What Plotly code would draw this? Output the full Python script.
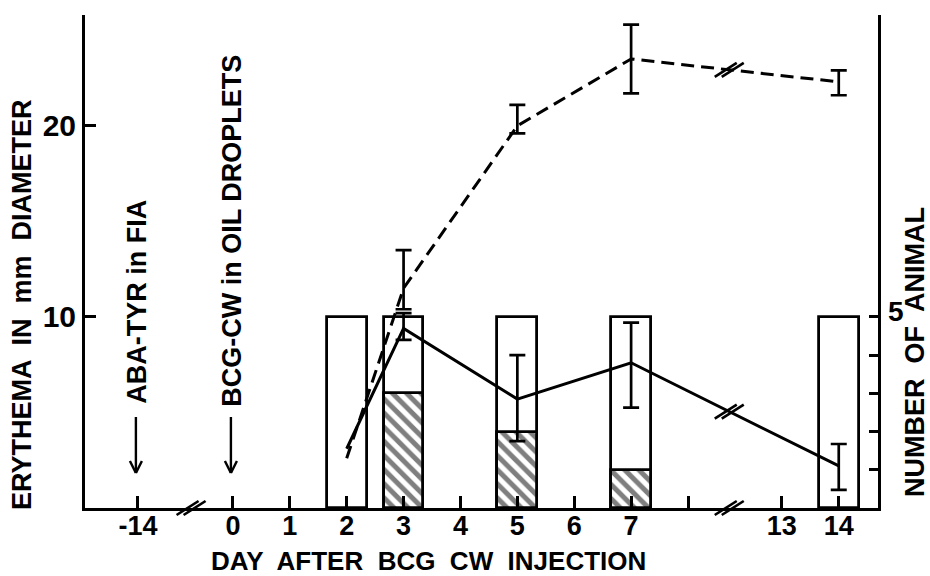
import plotly.graph_objects as go

# ---------------- data ----------------
tick_days = [-14, 0, 1, 2, 3, 4, 5, 6, 7, 8, 13, 14]
tick_labels = ["-14", "0", "1", "2", "3", "4", "5", "6", "7", "", "13", "14"]

bar_days = [2, 3, 5, 7, 14]
animals_total = [5, 5, 5, 5, 5]
hatched_days = [3, 5, 7]
animals_positive = [3, 2, 1]

line_days = [2, 3, 5, 7, 14]
dashed_mm = [2.6, 11.5, 20.0, 23.5, 22.3]
dashed_err_plus = [None, 2.0, 1.1, 1.8, 0.6]
dashed_err_minus = [None, 1.1, 0.4, 1.8, 0.7]
solid_mm = [3.1, 9.4, 5.7, 7.6, 2.2]
solid_err_plus = [None, 0.8, 2.3, 2.1, 1.15]
solid_err_minus = [None, 0.6, 2.2, 2.35, 1.25]

left_ticks = [10, 20]
right_ticks = [1, 2, 3, 4, 5]
right_label_value = 5

# ------------- broken-axis scale -------------
def xpos(day):
    if day < -1:
        return day + 12.33
    if day > 8:
        return day - 3.35
    return day

FONT = "Liberation Sans, Arial, sans-serif"
BLACK = "black"

fig = go.Figure()

# open bars (total animals) on base axis y (right side)
fig.add_trace(go.Bar(
    x=[xpos(d) for d in bar_days], y=animals_total, width=0.70,
    marker=dict(color="white", line=dict(color=BLACK, width=2.8)),
    yaxis="y", showlegend=False))
# hatched bars (positive animals)
fig.add_trace(go.Bar(
    x=[xpos(d) for d in hatched_days], y=animals_positive, width=0.70,
    marker=dict(color="white", line=dict(color=BLACK, width=2.8),
                pattern=dict(shape="\\", fgcolor=BLACK, bgcolor="white",
                             size=10, solidity=0.5)),
    yaxis="y", showlegend=False))

def add_line(vals, eplus, eminus, dash):
    xs = [xpos(d) for d in line_days]
    fig.add_trace(go.Scatter(
        x=xs, y=vals, mode="lines", yaxis="y2", showlegend=False,
        line=dict(color=BLACK, width=3, dash=dash)))
    idx = [i for i, e in enumerate(eplus) if e is not None]
    fig.add_trace(go.Scatter(
        x=[xs[i] for i in idx], y=[vals[i] for i in idx], mode="markers",
        yaxis="y2", showlegend=False, marker=dict(size=1, color=BLACK),
        error_y=dict(type="data", symmetric=False,
                     array=[eplus[i] for i in idx],
                     arrayminus=[eminus[i] for i in idx],
                     color=BLACK, thickness=2.7, width=8)))

add_line(dashed_mm, dashed_err_plus, dashed_err_minus, "13px,7px")
add_line(solid_mm, solid_err_plus, solid_err_minus, "solid")

# ------------- break marks -------------
shapes = []
def brk(xc, yc, yref):
    for dx in (-3.5, 3.5):
        shapes.append(dict(type="line", xref="x", yref=yref,
                           xsizemode="pixel", ysizemode="pixel",
                           xanchor=xc, yanchor=yc,
                           x0=dx - 11, x1=dx + 11, y0=-7, y1=7,
                           line=dict(color=BLACK, width=2.6)))

axis_brk1 = (xpos(-14) + xpos(0)) / 2 + 0.1
axis_brk2 = (xpos(8) + xpos(13)) / 2 - 0.1
brk(axis_brk1, 0, "paper")
brk(axis_brk2, 0, "paper")
# on the lines between day 7 and day 14
x7, x14 = xpos(7), xpos(14)
for vals in (dashed_mm, solid_mm):
    y7, y14 = vals[3], vals[4]
    t = (axis_brk2 - x7) / (x14 - x7)
    brk(axis_brk2, y7 + t * (y14 - y7), "y2")

# ------------- injection arrows -------------
annots = []
arrow_tip = 0.071
for day, label, ymid in ((-14, "ABA-TYR in FIA", 0.418),
                         (0, "BCG-CW in OIL DROPLETS", 0.562)):
    xc = xpos(day)
    shapes.append(dict(type="line", xref="x", yref="paper",
                       xsizemode="pixel", ysizemode="pixel",
                       xanchor=xc, yanchor=arrow_tip,
                       x0=-2, x1=-2, y0=0, y1=56,
                       line=dict(color=BLACK, width=2.4)))
    for s in (-1, 1):
        shapes.append(dict(type="line", xref="x", yref="paper",
                           xsizemode="pixel", ysizemode="pixel",
                           xanchor=xc, yanchor=arrow_tip,
                           x0=-2 + s * 6, x1=-2, y0=12, y1=0,
                           line=dict(color=BLACK, width=2.4)))
    annots.append(dict(text="<b>%s</b>" % label, x=xc, xref="x", y=ymid, yref="paper",
                       textangle=-90, showarrow=False, xanchor="center",
                       yanchor="middle", xshift=-1,
                       font=dict(family=FONT, size=27, color=BLACK)))

# right-axis label (only "5" is labelled)
annots.append(dict(text="<b>%d</b>" % right_label_value, x=1.0222, xref="paper",
                   y=right_label_value, yref="y", showarrow=False,
                   xanchor="center", yanchor="middle", yshift=5,
                   font=dict(family=FONT, size=28, color=BLACK)))

# ------------- axis titles -------------
annots.append(dict(text="<b>ERYTHEMA  IN  mm  DIAMETER</b>", x=-0.0794, y=0.412,
                   xref="paper", yref="paper", textangle=-90, showarrow=False,
                   xanchor="center", yanchor="middle",
                   font=dict(family=FONT, size=27, color=BLACK)))
annots.append(dict(text="<b>NUMBER  OF  ANIMAL</b>", x=1.0475, y=0.316,
                   xref="paper", yref="paper", textangle=-90, showarrow=False,
                   xanchor="center", yanchor="middle",
                   font=dict(family=FONT, size=27, color=BLACK)))
annots.append(dict(text="<b>DAY  AFTER  BCG  CW  INJECTION</b>", x=0.4326, y=-0.108,
                   xref="paper", yref="paper", showarrow=False,
                   xanchor="center", yanchor="middle",
                   font=dict(family=FONT, size=26, color=BLACK)))

fig.update_layout(
    width=930, height=576,
    margin=dict(l=85, r=52, t=15, b=68),
    paper_bgcolor="white", plot_bgcolor="white",
    barmode="overlay", bargap=0,
    font=dict(family=FONT, color=BLACK),
    xaxis=dict(range=[-2.60, 11.34], showgrid=False, zeroline=False,
               showline=True, linecolor=BLACK, linewidth=3,
               ticks="inside", ticklen=12, tickwidth=2.5, tickcolor=BLACK,
               tickvals=[xpos(d) for d in tick_days], ticktext=tick_labels,
               ticklabelstandoff=-8,
               tickfont=dict(family=FONT, size=27, color=BLACK, weight="bold")),
    yaxis=dict(range=[0, 12.9], side="right", showgrid=False, zeroline=False,
               showline=True, linecolor=BLACK, linewidth=3,
               ticks="inside", ticklen=9, tickwidth=2.5, tickcolor=BLACK,
               tickvals=right_ticks, showticklabels=False),
    yaxis2=dict(range=[0, 25.8], side="left", overlaying="y", showgrid=False,
                zeroline=False, showline=True, linecolor=BLACK, linewidth=3,
                ticks="inside", ticklen=11, tickwidth=2.5, tickcolor=BLACK,
                tickvals=left_ticks,
                tickfont=dict(family=FONT, size=30, color=BLACK, weight="bold")),
    shapes=shapes, annotations=annots,
)

fig.write_html("out.html", config={"displayModeBar": False},
               post_script="document.body.style.margin='0';")
